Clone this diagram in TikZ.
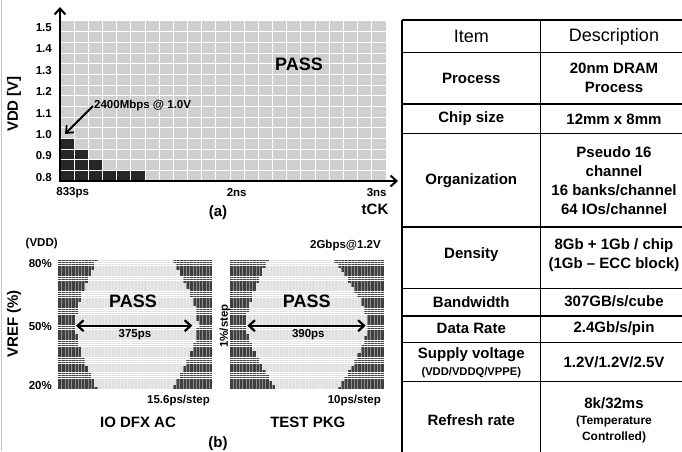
\documentclass[tikz,border=0pt]{standalone}
\usepackage{fontspec}
\setmainfont{Liberation Sans}
\usepackage{tikz}
\usetikzlibrary{arrows.meta}
\colorlet{passbg}{black!19}
\colorlet{failcell}{black!85}
\colorlet{shmoofail}{black!75}
\colorlet{shmoopass}{black!12}

\begin{document}
\begin{tikzpicture}[x=1pt, y=-1pt,
    tick/.style={font=\bfseries\fontsize{11.5}{13}\selectfont, inner sep=1pt},
    axlabel/.style={font=\bfseries\fontsize{15}{18}\selectfont, inner sep=1pt},
    passlabel/.style={font=\bfseries\fontsize{18}{20}\selectfont, inner sep=1pt},
    axis/.style={line width=2pt, {Straight Barb[length=6pt,width=11pt]}-{Straight Barb[length=6pt,width=11pt]}},
    callout/.style={line width=1.8pt, -{Straight Barb[length=6pt,width=10pt]}},
    eye/.style={line width=2.2pt, {Straight Barb[length=6pt,width=11pt]}-{Straight Barb[length=6pt,width=11pt]}},
    shmoogrid/.style={white, line width=0.4pt, opacity=0.4},
    tableline/.style={black, line width=1.3pt},
    cell/.style={font=\bfseries\fontsize{15}{19}\selectfont, align=center, inner sep=1pt},
    head/.style={font=\fontsize{18}{21}\selectfont, inner sep=1pt},
]
    \useasboundingbox (0,0) rectangle (682,451);
    \fill[white] (0,0) rectangle (682,451);
    \draw[gray!45, line width=0.8pt] (1.5,0) -- (1.5,451);

    % (a) VDD vs tCK
    \fill[passbg] (60,21) rectangle (386,181);
    \foreach \c/\h in {0/4,1/3,2/2,3/1,4/1,5/1}
        \fill[failcell] ({60+\c*14.17},{181-\h*10.67}) rectangle ({60+(\c+1)*14.17},181);
    \foreach \i in {1,...,22}
        \draw[white, line width=0.9pt] ({60+\i*14.17},21) -- ({60+\i*14.17},181);
    \foreach \j in {1,...,14}
        \draw[white, line width=0.9pt] (60,{21+\j*10.67}) -- (386,{21+\j*10.67});
    \coordinate (topA) at (60,7);
    \coordinate (origA) at (60,181);
    \coordinate (endA) at (398,181);
    \draw[axis] (topA) -- (origA) -- (endA);

    \foreach \v [count=\k from 0] in {1.5,1.4,1.3,1.2,1.1,1.0,0.9,0.8}
        \node[tick, anchor=east] (v\k) at (53,{27.5+\k*21.4}) {\v};
    \node[tick] (t833) at (72.7,192.7) {833ps};
    \node[tick] (t2ns) at (236.7,192.7) {2ns};
    \node[tick] (t3ns) at (376.7,192.7) {3ns};
    \node[axlabel] (tck) at (375,209.5) {tCK};
    \node[axlabel] (capa) at (218,213) {(a)};
    \node[axlabel, rotate=90] (vdd) at (14,104) {VDD [V]};
    \node[passlabel] (passa) at (299,64) {PASS};
    \node[tick, anchor=west] (mbps) at (93,106) {2400Mbps @ 1.0V};
    \coordinate (corner) at (65,134);
    \draw[callout] (mbps.west) -- (corner);

    % (b) VREF shmoo
    \foreach \xo/\lx/\lu/\ld/\rx/\ru/\rd in {58.3/75/22/22/198/25/25, 229.5/246/22/30/368/35/30}{
        \fill[white] (\xo,259.3) rectangle ({\xo+154},389.3);
        \foreach \r in {0,...,60}{
            \pgfmathsetmacro{\tv}{abs(\r-30)/30}
            \pgfmathsetmacro{\sv}{\tv*sqrt(\tv)}
            \pgfmathsetmacro{\xl}{\xo+3.28*round((\lx+ifthenelse(\r<30,\lu,\ld)*\sv-\xo)/3.28)}
            \pgfmathsetmacro{\xr}{\xo+3.28*round((\rx-ifthenelse(\r<30,\ru,\rd)*\sv-\xo)/3.28)}
            \pgfmathsetmacro{\yt}{259.3+\r*2.131+0.25}
            \pgfmathsetmacro{\yb}{259.3+(\r+1)*2.131-0.25}
            \fill[shmoofail] (\xo,\yt) rectangle (\xl,\yb);
            \fill[shmoopass] (\xl,\yt) rectangle (\xr,\yb);
            \fill[shmoofail] (\xr,\yt) rectangle ({\xo+154},\yb);
        }
        \foreach \i in {1,...,46}
            \draw[shmoogrid] ({\xo+\i*3.28},259.3) -- ({\xo+\i*3.28},389.3);
    }

    \node[tick] (vddb) at (41.7,244) {(VDD)};
    \node[tick, anchor=east] (p80) at (53,263.3) {80\%};
    \node[tick, anchor=east] (p50) at (53,326.7) {50\%};
    \node[tick, anchor=east] (p20) at (53,386) {20\%};
    \node[axlabel, rotate=90] (vref) at (14,324) {VREF (\%)};
    \node[tick, anchor=east] (rate) at (382,246) {2Gbps@1.2V};
    \node[passlabel] (passb1) at (133,301) {PASS};
    \node[passlabel] (passb2) at (306.7,301) {PASS};
    \coordinate (eyeAl) at (76,325.7);
    \coordinate (eyeAr) at (192.3,325.7);
    \coordinate (eyeBl) at (247.3,325.7);
    \coordinate (eyeBr) at (365.7,325.7);
    \draw[eye] (eyeAl) -- (eyeAr);
    \draw[eye] (eyeBl) -- (eyeBr);
    \node[tick] (w375) at (135,334.5) {375ps};
    \node[tick] (w390) at (308.3,334.5) {390ps};
    \node[tick, rotate=90] (vstep) at (225,326) {1\%/step};
    \node[tick, anchor=east] (stepA) at (211,400.7) {15.6ps/step};
    \node[tick, anchor=east] (stepB) at (382,400.7) {10ps/step};
    \node[axlabel] (ioac) at (138,422.7) {IO DFX AC};
    \node[axlabel] (tpkg) at (307.8,422.7) {TEST PKG};
    \node[axlabel] (capb) at (218,443.3) {(b)};

    % spec table
    \foreach \y in {20,52.3,104,133.3,227,288.5,316,342.3,381.7}
        \draw[tableline] (402,\y) -- (692,\y);
    \draw[tableline] (402,20) -- (402,452) (540.7,20) -- (540.7,452);

    \node[head] (hItem) at (471.3,36.5) {Item};
    \node[head] (hDesc) at (614,36.5) {Description};
    \node[cell] (iProc) at (471.3,78.3) {Process};
    \node[cell] (dProc) at (614,78.3) {20nm DRAM\\Process};
    \node[cell] (iChip) at (471.3,119) {Chip size};
    \node[cell] (dChip) at (614,119) {12mm x 8mm};
    \node[cell] (iOrg) at (471.3,180.5) {Organization};
    \node[cell] (dOrg) at (614,180.5) {Pseudo 16\\channel\\16 banks/channel\\64 IOs/channel};
    \node[cell] (iDen) at (471.3,254.5) {Density};
    \node[cell] (dDen) at (614,254.7) {8Gb + 1Gb / chip\\(1Gb – ECC block)};
    \node[cell] (iBw) at (471.3,301.7) {Bandwidth};
    \node[cell] (dBw) at (614,301.7) {307GB/s/cube};
    \node[cell] (iRate) at (471.3,328.5) {Data Rate};
    \node[cell] (dRate) at (614,328.5) {2.4Gb/s/pin};
    \node[cell] (iVolt) at (471.3,363) {Supply voltage\\[-2pt]{\fontsize{11.2}{13}\selectfont(VDD/VDDQ/VPPE)}};
    \node[cell] (dVolt) at (614,362.7) {1.2V/1.2V/2.5V};
    \node[cell] (iRef) at (471.3,420) {Refresh rate};
    \node[cell] (dRef) at (614,420) {8k/32ms\\[-3pt]{\fontsize{12}{14.5}\selectfont(Temperature}\\[-3pt]{\fontsize{12}{14.5}\selectfont Controlled)}};
\end{tikzpicture}
\end{document}
